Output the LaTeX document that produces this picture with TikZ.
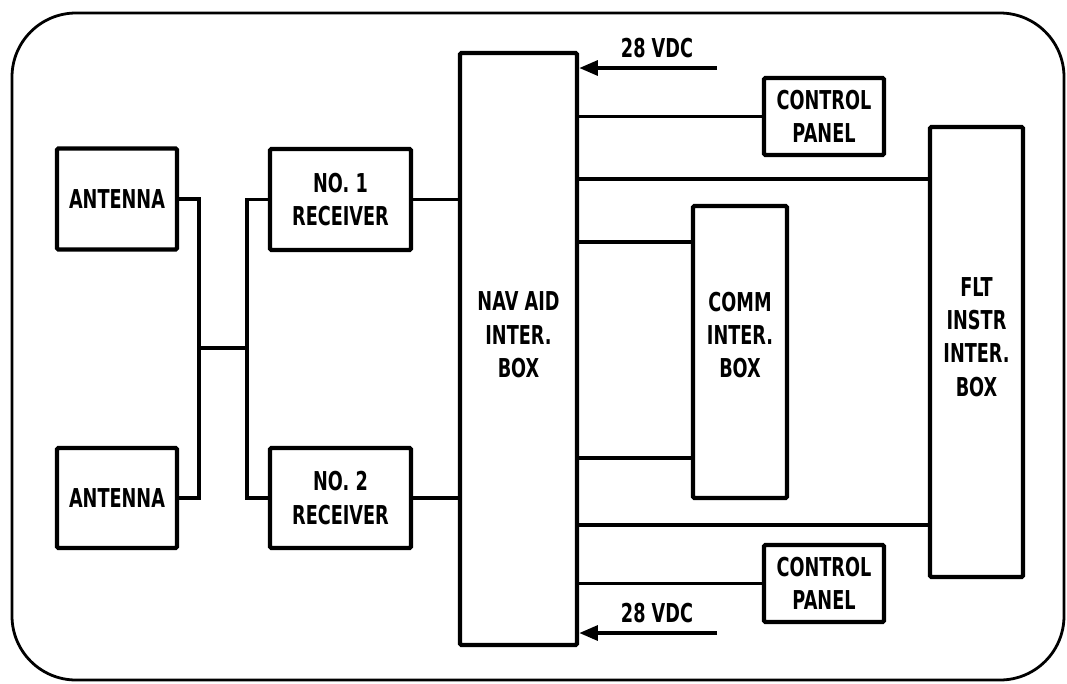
\documentclass[tikz,border=0pt]{standalone}
\usepackage{fontspec}
\newfontfamily\labfont{DejaVu Sans}[FakeStretch=0.68]
\usetikzlibrary{arrows.meta}
\begin{document}
\begin{tikzpicture}[x=0.75pt,y=-0.75pt,
  txt/.style={font=\labfont\bfseries\fontsize{19.5}{25}\selectfont, align=center, inner sep=0pt},
  boxst/.style={draw, line width=3.2pt, rounded corners=1pt, txt},
  wire/.style={line width=2.9pt},
  power/.style={wire, -{Triangle[length=14pt,width=11pt]}},
  frame/.style={line width=2.1pt, rounded corners=48pt}]
\useasboundingbox (0,0) rectangle (1067,683);
\draw[frame] (12,13) rectangle (1064,680);
% boxes
\node[boxst, minimum width=90pt, minimum height=75.75pt] (ant1) at (117,199) {ANTENNA};
\node[boxst, minimum width=90pt, minimum height=75pt] (ant2) at (117,498) {ANTENNA};
\node[boxst, minimum width=105.75pt, minimum height=75.75pt] (rec1) at (340.5,199.5) {NO. 1\\RECEIVER};
\node[boxst, minimum width=105.75pt, minimum height=75pt] (rec2) at (340.5,498) {NO. 2\\RECEIVER};
\node[boxst, minimum width=87.75pt, minimum height=444pt] (nav) at (518.5,349) {};
\node[txt] (navt) at (518.5,335) {NAV AID\\INTER.\\BOX};
\node[boxst, minimum width=90pt, minimum height=57.75pt] (cp1) at (824,116.5) {CONTROL\\PANEL};
\node[boxst, minimum width=90pt, minimum height=57.75pt] (cp2) at (824,583.5) {CONTROL\\PANEL};
\node[boxst, minimum width=70.5pt, minimum height=219pt] (comm) at (740,352) {};
\node[txt] (commt) at (740,335) {COMM\\INTER.\\BOX};
\node[boxst, minimum width=69.75pt, minimum height=337.5pt] (flt) at (976.5,352) {};
\node[txt] (fltt) at (976.5,337) {FLT\\INSTR\\INTER.\\BOX};
% antenna / receiver wiring
\coordinate (jL) at (199,348);
\coordinate (jR) at (247,348);
\draw[wire] (ant1.east) -| (jL) |- (ant2.east);
\draw[wire] (jL) -- (jR);
\draw[wire] (rec1.west) -| (jR) |- (rec2.west);
\draw[wire] (rec1.east) -- (rec1.east -| nav.west);
\draw[wire] (rec2.east) -- (rec2.east -| nav.west);
% 28 VDC inputs
\coordinate (v1) at (717,68);
\coordinate (v2) at (717,633);
\draw[power] (v1) -- (v1 -| nav.east);
\draw[power] (v2) -- (v2 -| nav.east);
\node[txt] (v1t) at (657,48) {28 VDC};
\node[txt] (v2t) at (657,613) {28 VDC};
% NAV AID to others
\draw[wire] (cp1.west -| nav.east) -- (cp1.west);
\draw[wire] (cp2.west -| nav.east) -- (cp2.west);
\coordinate (f1) at (930,179);
\coordinate (f2) at (930,525);
\draw[wire] (f1 -| nav.east) -- (f1 -| flt.west);
\draw[wire] (f2 -| nav.east) -- (f2 -| flt.west);
\coordinate (c1) at (693,242);
\coordinate (c2) at (693,458);
\draw[wire] (c1 -| nav.east) -- (c1 -| comm.west);
\draw[wire] (c2 -| nav.east) -- (c2 -| comm.west);
\end{tikzpicture}
\end{document}
